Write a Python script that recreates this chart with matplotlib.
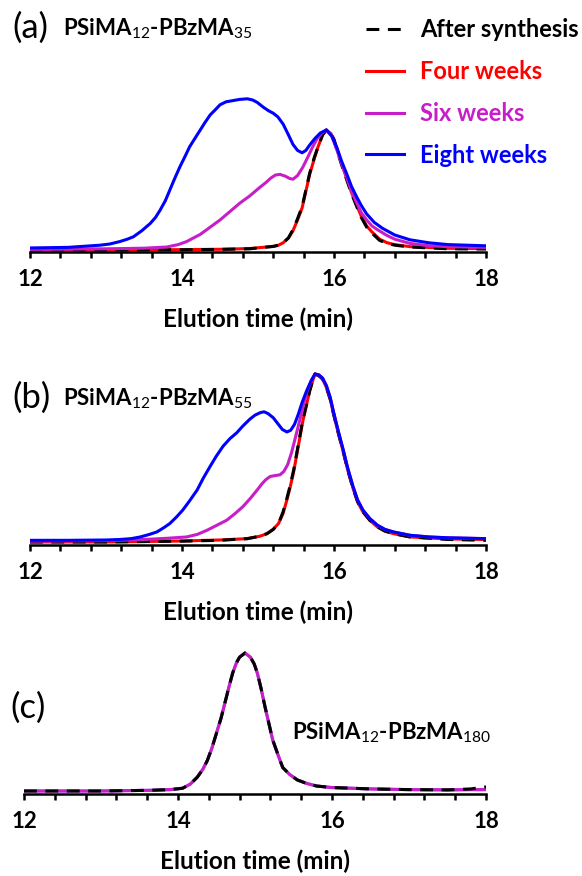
import matplotlib
matplotlib.use('Agg')
import matplotlib.pyplot as plt
from matplotlib.ticker import MultipleLocator

plt.rcParams['font.family'] = ['Lato', 'DejaVu Sans']
plt.rcParams['mathtext.fontset'] = 'custom'
plt.rcParams['mathtext.rm'] = 'Lato'

# ---------------- data ----------------
series_names = ['After synthesis', 'Four weeks', 'Six weeks', 'Eight weeks']
series_colors = ['#000000', '#FF0000', '#C81EC8', '#0000FF']

# panel (a) PSiMA12-PBzMA35
a_after_t = [12.0, 13.0, 14.0, 14.5, 14.89, 15.2, 15.27, 15.33, 15.4, 15.46, 15.52, 15.58,
             15.63, 15.68, 15.74, 15.79, 15.85, 15.9, 15.96, 16.0, 16.04, 16.1, 16.17,
             16.23, 16.3, 16.36, 16.43, 16.5, 16.6, 16.7, 16.8, 17.0, 17.5, 18.0]
a_after_v = [0.0, 0.0, 0.002, 0.005, 0.01, 0.03, 0.04, 0.06, 0.1, 0.17, 0.26, 0.36,
             0.5, 0.64, 0.77, 0.86, 0.96, 1.0, 0.97, 0.92, 0.83, 0.71, 0.58,
             0.47, 0.36, 0.27, 0.19, 0.14, 0.08, 0.055, 0.04, 0.025, 0.01, 0.008]
a_four_t = a_after_t
a_four_v = [0.0, 0.0, 0.003, 0.006, 0.012, 0.03, 0.04, 0.06, 0.1, 0.16, 0.25, 0.35,
            0.49, 0.63, 0.76, 0.86, 0.96, 1.0, 0.97, 0.92, 0.84, 0.72, 0.59,
            0.48, 0.37, 0.28, 0.2, 0.15, 0.09, 0.06, 0.045, 0.028, 0.014, 0.012]
a_six_t = [12.0, 13.0, 13.5, 13.8, 13.95, 14.06, 14.15, 14.24, 14.37, 14.5, 14.63, 14.76,
           14.89, 15.03, 15.1, 15.17, 15.23, 15.29, 15.36, 15.42, 15.46, 15.52, 15.59,
           15.66, 15.72, 15.78, 15.84, 15.9, 15.97, 16.04, 16.1, 16.17, 16.23, 16.3,
           16.36, 16.43, 16.5, 16.57, 16.7, 16.8, 17.0, 17.25, 17.5, 18.0]
a_six_v = [0.005, 0.01, 0.015, 0.025, 0.045, 0.07, 0.1, 0.13, 0.19, 0.25, 0.32, 0.39,
           0.45, 0.525, 0.56, 0.6, 0.625, 0.63, 0.615, 0.595, 0.59, 0.62, 0.69,
           0.78, 0.86, 0.93, 0.975, 1.0, 0.95, 0.83, 0.72, 0.6, 0.49, 0.39,
           0.31, 0.25, 0.2, 0.17, 0.12, 0.09, 0.055, 0.035, 0.028, 0.022]
a_eight_t = [12.0, 12.5, 12.92, 13.05, 13.18, 13.28, 13.36, 13.47, 13.58, 13.65, 13.71,
             13.78, 13.84, 13.9, 13.97, 14.04, 14.1, 14.17, 14.24, 14.3, 14.37, 14.44,
             14.5, 14.58, 14.67, 14.76, 14.86, 14.93, 14.99, 15.07, 15.14, 15.2, 15.26,
             15.33, 15.4, 15.46, 15.52, 15.58, 15.63, 15.68, 15.75, 15.82, 15.9, 15.97,
             16.04, 16.1, 16.17, 16.23, 16.3, 16.36, 16.43, 16.53, 16.64, 16.8, 17.0,
             17.25, 17.5, 18.0]
a_eight_v = [0.017, 0.022, 0.04, 0.05, 0.07, 0.09, 0.11, 0.16, 0.22, 0.27, 0.33,
             0.41, 0.5, 0.59, 0.69, 0.78, 0.86, 0.93, 1.0, 1.06, 1.125, 1.17,
             1.21, 1.235, 1.245, 1.255, 1.26, 1.25, 1.23, 1.19, 1.16, 1.14, 1.11,
             1.05, 0.96, 0.88, 0.83, 0.81, 0.83, 0.875, 0.93, 0.975, 1.0, 0.95,
             0.85, 0.74, 0.63, 0.53, 0.44, 0.37, 0.3, 0.23, 0.18, 0.125, 0.085,
             0.06, 0.045, 0.035]

# panel (b) PSiMA12-PBzMA55
b_after_t = [12.0, 13.0, 14.0, 14.5, 14.86, 15.03, 15.12, 15.2, 15.27, 15.33, 15.38,
             15.42, 15.47, 15.51, 15.55, 15.59, 15.64, 15.68, 15.72, 15.75, 15.8,
             15.85, 15.9, 15.95, 15.99, 16.05, 16.12, 16.18, 16.25, 16.31, 16.38,
             16.47, 16.57, 16.67, 16.78, 17.0, 17.5, 18.0]
b_after_v = [0.0, 0.0, 0.005, 0.01, 0.02, 0.035, 0.05, 0.075, 0.11, 0.18, 0.26,
             0.33, 0.43, 0.53, 0.63, 0.73, 0.82, 0.9, 0.96, 1.0, 0.99,
             0.97, 0.92, 0.85, 0.77, 0.66, 0.54, 0.43, 0.32, 0.24, 0.18,
             0.13, 0.09, 0.065, 0.05, 0.03, 0.015, 0.01]
b_four_t = b_after_t
b_four_v = [0.0, 0.0, 0.006, 0.012, 0.02, 0.035, 0.05, 0.075, 0.11, 0.17, 0.25,
            0.32, 0.42, 0.52, 0.62, 0.72, 0.82, 0.9, 0.96, 1.0, 0.99,
            0.97, 0.92, 0.85, 0.77, 0.66, 0.54, 0.43, 0.32, 0.24, 0.18,
            0.13, 0.09, 0.065, 0.05, 0.03, 0.018, 0.015]
b_six_t = [12.0, 13.0, 13.5, 13.8, 14.06, 14.2, 14.33, 14.46, 14.59, 14.7, 14.8, 14.9,
           14.99, 15.05, 15.1, 15.16, 15.22, 15.29, 15.34, 15.39, 15.44, 15.48, 15.53,
           15.58, 15.64, 15.7, 15.75, 15.8, 15.85, 15.9, 15.95, 15.99, 16.05, 16.12,
           16.18, 16.25, 16.31, 16.38, 16.47, 16.57, 16.67, 16.78, 17.0, 17.25, 17.5, 18.0]
b_six_v = [0.005, 0.008, 0.015, 0.022, 0.03, 0.045, 0.07, 0.1, 0.13, 0.17, 0.21, 0.26,
           0.31, 0.345, 0.37, 0.39, 0.395, 0.4, 0.42, 0.46, 0.53, 0.6, 0.69,
           0.78, 0.89, 0.96, 1.0, 0.995, 0.975, 0.93, 0.86, 0.78, 0.67, 0.55,
           0.44, 0.33, 0.25, 0.19, 0.14, 0.1, 0.075, 0.06, 0.04, 0.03, 0.025, 0.02]
b_eight_t = [12.0, 12.5, 13.0, 13.18, 13.33, 13.45, 13.57, 13.67, 13.76, 13.84, 13.93,
             14.01, 14.1, 14.2, 14.28, 14.37, 14.45, 14.54, 14.63, 14.72, 14.8, 14.89,
             14.96, 15.03, 15.08, 15.13, 15.2, 15.26, 15.32, 15.38, 15.43, 15.48, 15.53,
             15.58, 15.64, 15.7, 15.75, 15.8, 15.85, 15.9, 15.95, 15.99, 16.05, 16.12,
             16.18, 16.25, 16.31, 16.38, 16.47, 16.57, 16.67, 16.78, 17.0, 17.25, 17.5, 18.0]
b_eight_v = [0.01, 0.01, 0.012, 0.015, 0.02, 0.03, 0.045, 0.06, 0.085, 0.11, 0.15,
             0.19, 0.245, 0.31, 0.38, 0.45, 0.51, 0.57, 0.615, 0.65, 0.69, 0.73,
             0.755, 0.77, 0.775, 0.765, 0.74, 0.705, 0.67, 0.655, 0.665, 0.7, 0.76,
             0.83, 0.9, 0.96, 1.0, 0.995, 0.975, 0.93, 0.86, 0.78, 0.67, 0.55,
             0.44, 0.33, 0.25, 0.19, 0.14, 0.1, 0.075, 0.06, 0.04, 0.03, 0.025, 0.02]

# panel (c) PSiMA12-PBzMA180 (all samples overlap)
c_t = [12.0, 13.0, 13.64, 13.9, 14.06, 14.16, 14.25, 14.32, 14.38, 14.44, 14.5, 14.56,
       14.61, 14.66, 14.71, 14.76, 14.8, 14.87, 14.94, 14.99, 15.03, 15.08, 15.13,
       15.18, 15.23, 15.3, 15.36, 15.45, 15.55, 15.67, 15.8, 16.0, 16.5, 17.0, 17.5,
       17.8, 18.0]
c_after_v = [0.0, 0.0, 0.005, 0.01, 0.02, 0.05, 0.1, 0.155, 0.22, 0.31, 0.42, 0.53,
             0.64, 0.75, 0.855, 0.93, 0.97, 1.0, 0.97, 0.92, 0.855, 0.74, 0.61,
             0.49, 0.37, 0.26, 0.17, 0.12, 0.08, 0.055, 0.036, 0.025, 0.015, 0.01, 0.008,
             0.015, 0.03]
c_aged_v = [0.0, 0.0, 0.005, 0.01, 0.02, 0.05, 0.1, 0.155, 0.22, 0.31, 0.42, 0.53,
            0.64, 0.75, 0.855, 0.93, 0.97, 1.0, 0.97, 0.92, 0.855, 0.74, 0.61,
            0.49, 0.37, 0.26, 0.17, 0.12, 0.08, 0.055, 0.036, 0.025, 0.015, 0.01, 0.008,
            0.01, 0.01]

# ---------------- figure ----------------
W, H = 582, 876
fig = plt.figure(figsize=(W / 100, H / 100), dpi=100)


def px_axes(x0, x1, top, bottom):
    # axes rectangle given in pixels (origin top-left)
    return fig.add_axes([x0 / W, 1 - bottom / H, (x1 - x0) / W, (bottom - top) / H])


def style_axis(ax, ylo, yhi):
    ax.set_xlim(12, 18)
    ax.set_ylim(ylo, yhi)
    for s in ['top', 'left', 'right']:
        ax.spines[s].set_visible(False)
    ax.spines['bottom'].set_linewidth(1.8)
    ax.set_yticks([])
    ax.xaxis.set_major_locator(MultipleLocator(2))
    ax.xaxis.set_minor_locator(MultipleLocator(0.4))
    ax.tick_params(axis='x', which='both', direction='out', length=4, width=1.8, pad=8,
                   labelsize=16)
    for lab in ax.get_xticklabels():
        lab.set_fontweight('bold')
    ax.set_xlabel('Elution time (min)', fontsize=17.5, fontweight='bold', labelpad=13)
    ax.patch.set_visible(False)


lw = 2.2
dash = (4.2, 2.8)

# (a)
ax_a = px_axes(30, 486, 80, 252)
style_axis(ax_a, -2 / 120, -2 / 120 + 172 / 120)
l_four, = ax_a.plot(a_four_t, a_four_v, color=series_colors[1], lw=lw)
l_after, = ax_a.plot(a_after_t, a_after_v, color=series_colors[0], lw=lw, dashes=dash)
l_six, = ax_a.plot(a_six_t, a_six_v, color=series_colors[2], lw=lw)
l_eight, = ax_a.plot(a_eight_t, a_eight_v, color=series_colors[3], lw=lw)

ax_a.legend([l_after, l_four, l_six, l_eight], series_names, loc='upper left',
            bbox_to_anchor=(366 / W, 1 - 18 / H), bbox_transform=fig.transFigure,
            frameon=False, borderpad=0, borderaxespad=0,
            handlelength=1.6, handletextpad=0.7, labelspacing=0.8,
            prop={'weight': 'bold', 'size': 17}, labelcolor=series_colors)

# (b)
ax_b = px_axes(30, 486, 360, 545)
style_axis(ax_b, -3 / 168, -3 / 168 + 185 / 168)
ax_b.plot(b_four_t, b_four_v, color=series_colors[1], lw=lw)
ax_b.plot(b_after_t, b_after_v, color=series_colors[0], lw=lw, dashes=dash)
ax_b.plot(b_six_t, b_six_v, color=series_colors[2], lw=lw)
ax_b.plot(b_eight_t, b_eight_v, color=series_colors[3], lw=lw)

# (c)
ax_c = px_axes(24, 486, 640, 794)
style_axis(ax_c, -3 / 138, -3 / 138 + 154 / 138)
ax_c.plot(c_t, c_aged_v, color='#7777EE', lw=lw)
ax_c.plot(c_t, c_aged_v, color=series_colors[2], lw=lw)
ax_c.plot(c_t, c_after_v, color=series_colors[0], lw=lw, dashes=dash)

# panel labels
def ftext(x, y, s, **kw):
    fig.text(x / W, 1 - y / H, s, va='center', ha='left', **kw)

ftext(12, 28, '(a)', fontsize=25)
ftext(63, 29, r'PSiMA$_{\mathrm{12}}$-PBzMA$_{\mathrm{35}}$', fontsize=16, fontweight='bold')
ftext(12, 398, '(b)', fontsize=25)
ftext(63, 399, r'PSiMA$_{\mathrm{12}}$-PBzMA$_{\mathrm{55}}$', fontsize=16, fontweight='bold')
ftext(10, 708, '(c)', fontsize=25)
ftext(292, 733, r'PSiMA$_{\mathrm{12}}$-PBzMA$_{\mathrm{180}}$', fontsize=16, fontweight='bold')

fig.savefig('out.png', dpi=100)
